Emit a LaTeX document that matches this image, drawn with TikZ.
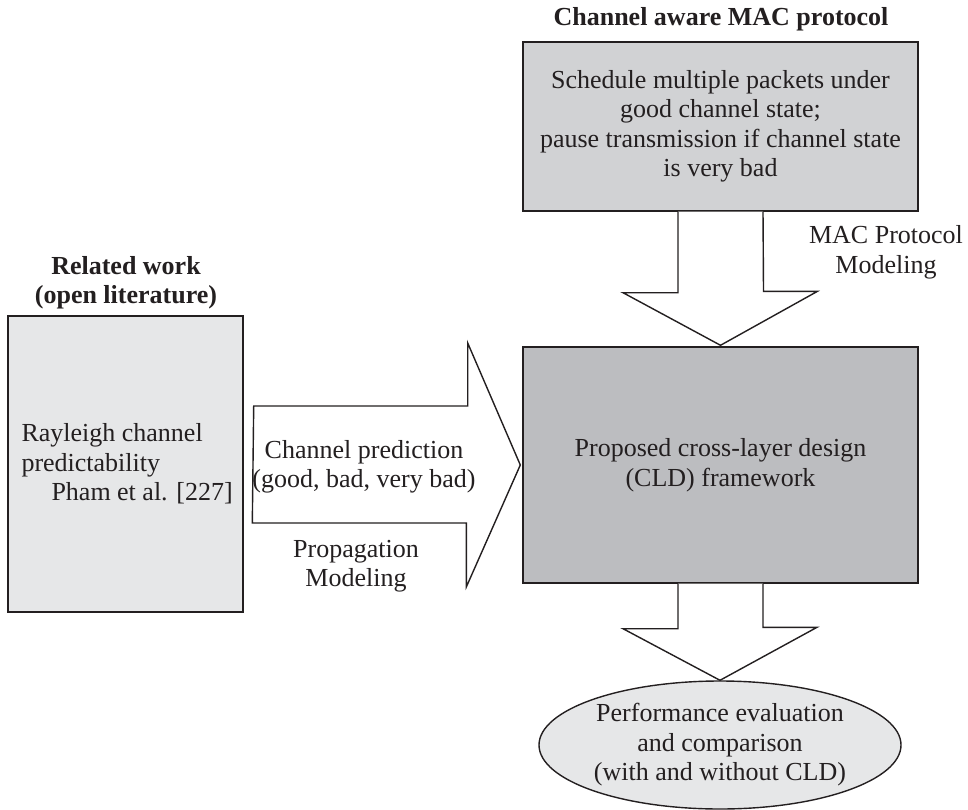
\documentclass[tikz,border=0pt]{standalone}
\usepackage{fontspec}
\setmainfont{Liberation Serif}
\usetikzlibrary{shapes.geometric,calc}

\definecolor{ink}{HTML}{231F20}
\definecolor{paleGray}{HTML}{E6E7E8}
\definecolor{midGray}{HTML}{D1D2D4}
\definecolor{darkGray}{HTML}{BCBDC0}

\begin{document}
\begin{tikzpicture}[x=1pt,y=-1pt,
  every node/.style={text=ink},
  txt/.style={font=\fontsize{26}{29.5}\selectfont, align=center, inner sep=0pt},
  heading/.style={font=\bfseries\fontsize{26}{29.5}\selectfont, align=center, inner sep=0pt},
  panel/.style={draw=ink, line width=1.4pt, rectangle, inner sep=0pt,
                font=\fontsize{26}{29.5}\selectfont, align=center},
  oval/.style={draw=ink, line width=1.4pt, ellipse, inner sep=0pt, fill=paleGray},
  blockarrow/.style={draw=ink, fill=white, line width=1.4pt, line join=miter},
]
\useasboundingbox (0,0) rectangle (968,810);

% boxes
\node[panel, fill=midGray, minimum width=395pt, minimum height=169pt] (mac) at (720.5,126.5)
  {Schedule multiple packets under\\good channel state;\\pause transmission if channel state\\is very bad};
\node[panel, fill=darkGray, minimum width=395pt, minimum height=236pt] (cld) at (720.5,465)
  {Proposed cross-layer design\\(CLD) framework};
\node[panel, fill=paleGray, minimum width=235pt, minimum height=296pt] (lit) at (125.5,464) {};
\node[txt, align=left, anchor=west] (littext) at ($(lit.west)+(14,0)$)
  {Rayleigh channel\\predictability\\\hspace*{30pt}Pham et al. [227]};
\node[oval, minimum width=362pt, minimum height=128pt] (eval) at (720,745) {};
\node[txt] (evaltext) at (eval.center)
  {Performance evaluation\\and comparison\\(with and without CLD)};

% headings
\node[heading, anchor=base] (machead) at (721,26) {Channel aware MAC protocol};
\node[heading] (lithead) at (126,282.5) {Related work\\(open literature)};

% block arrow: MAC protocol -> framework
\draw[blockarrow] ($(mac.south)+(-42.5,0)$) -- ++(0,81) -- ++(-55,0)
  -- ($(cld.north)+(0,-1)$) -- ++(97,-54) -- ++(-54,0) -- ($(mac.south)+(42.5,0)$);
% block arrow: related work -> framework
\draw[blockarrow] ($(lit.east)+(10,-58)$) -- ++(214,0) -- ++(0,-63)
  -- ($(cld.west)+(-2,0)$) -- ++(-54,122) -- ++(0,-64) -- ++(-214,0) -- cycle;
% block arrow: framework -> evaluation
\draw[blockarrow] ($(cld.south)+(-42.5,0)$) -- ++(0,45) -- ++(-55,0)
  -- (eval.north) -- ++(97,-53) -- ++(-54,0) -- ($(cld.south)+(42.5,0)$);

% arrow labels
\node[txt] (maclabel) at (886,252.4) {MAC Protocol\\Modeling};
\node[txt] (predlabel) at (364,467) {Channel prediction\\(good, bad, very bad)};
\node[txt] (proplabel) at (356,566) {Propagation\\Modeling};
\end{tikzpicture}
\end{document}
